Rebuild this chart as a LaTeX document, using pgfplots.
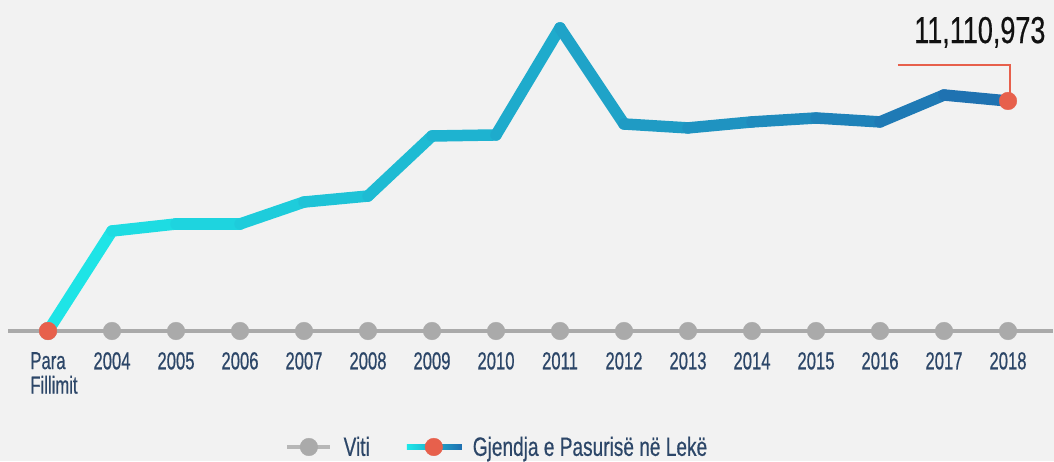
\documentclass[border=0pt]{standalone}
\usepackage{pgfplots}
\pgfplotsset{compat=1.18}
\usepackage{fontspec}
\setmainfont{Liberation Sans}[FakeStretch=0.72, FakeBold=0.5]
\newfontfamily\tickfont{Liberation Sans}[FakeStretch=0.68, FakeBold=0.5]
\definecolor{bgc}{RGB}{242,242,242}
\definecolor{navy}{RGB}{44,70,104}
\definecolor{dotgray}{RGB}{170,170,170}
\definecolor{redc}{RGB}{231,96,76}
\definecolor{cstart}{RGB}{30,232,232}
\definecolor{cend}{RGB}{31,111,176}
\begin{document}
\begin{tikzpicture}
\path[use as bounding box] (0,0) rectangle (1054pt,461pt);
\fill[bgc] (0,0) rectangle (1054pt,461pt);
\begin{axis}[
  at={(0,0)}, anchor=south west,
  scale only axis, width=1054pt, height=461pt,
  xmin=-0.75, xmax=15.71875,
  ymin=-6279780, ymax=15989286,
  axis x line=middle, axis y line=none,
  x axis line style={draw=none},
  hide obscured x ticks=false,
  xtick={0,...,15},
  xticklabels={{\hspace*{12pt}Para\\\hspace*{12pt}Fillimit},2004,2005,2006,2007,2008,2009,2010,2011,2012,2013,2014,2015,2016,2017,2018},
  major tick length=0pt,
  xticklabel style={anchor=north, inner sep=0pt, yshift=-21pt, align=left, text=navy, font=\tickfont\fontsize{24.5}{24.5}\selectfont},
  clip=false,
  legend style={at={(rel axis cs:0.2675,0.0304)}, anchor=west, draw=none, fill=none,
    font=\fontsize{26.5}{28}\selectfont, text=navy, legend columns=2,
    nodes={inner sep=0pt, anchor=west},
    /tikz/every odd column/.append style={column sep=11pt},
    /tikz/every even column/.append style={column sep=37pt}},
]
% gray baseline and year dots
\addplot[dotgray, line width=4.5pt, forget plot] coordinates {(-0.625,0) (15.71,0)};
\addplot[only marks, mark=*, mark size=8.8pt, dotgray, forget plot] coordinates {
(0,0) (1,0) (2,0) (3,0) (4,0) (5,0) (6,0) (7,0) (8,0) (9,0) (10,0) (11,0) (12,0) (13,0) (14,0) (15,0)};
% wealth line with gradient
\addplot[mesh, point meta=x, line width=11.5pt, line cap=round, line join=round,
  colormap={grad}{rgb255=(30,232,232) rgb255=(31,111,176)}, forget plot] coordinates {
(0,0) (1,4830000) (2,5170000) (3,5170000) (4,6230000) (5,6520000)
(6,9420000) (7,9470000) (8,14640000) (9,10000000) (10,9810000)
(11,10100000) (12,10290000) (13,10100000) (14,11400000) (15,11110973)};
% annotation leader
\draw[redc, line width=2pt] (axis cs:13.28,12850000) -| (axis cs:15.03,11110973);
\addplot[only marks, mark=*, mark size=8.8pt, redc, forget plot] coordinates {(0,0) (15,11110973)};
\node[anchor=base, inner sep=0pt, text={rgb,255:red,17;green,17;blue,17}, font=\fontsize{37.5}{40}\selectfont] at (axis cs:14.56,13910000) {11,110,973};
% legend
\addlegendimage{legend image code/.code={
  \draw[dotgray!85!white, line width=4.5pt] (0pt,0pt) -- (43pt,0pt);
  \fill[dotgray] (21.5pt,0pt) circle (8.8pt);}}
\addlegendentry{Viti}
\addlegendimage{legend image code/.code={
  \shade[draw=none, left color=cstart, right color=cend] (0pt,-2.6pt) rectangle (55pt,2.6pt);
  \fill[redc] (27pt,0pt) circle (8.8pt);}}
\addlegendentry{Gjendja e Pasurisë në Lekë}
\end{axis}
\end{tikzpicture}
\end{document}
